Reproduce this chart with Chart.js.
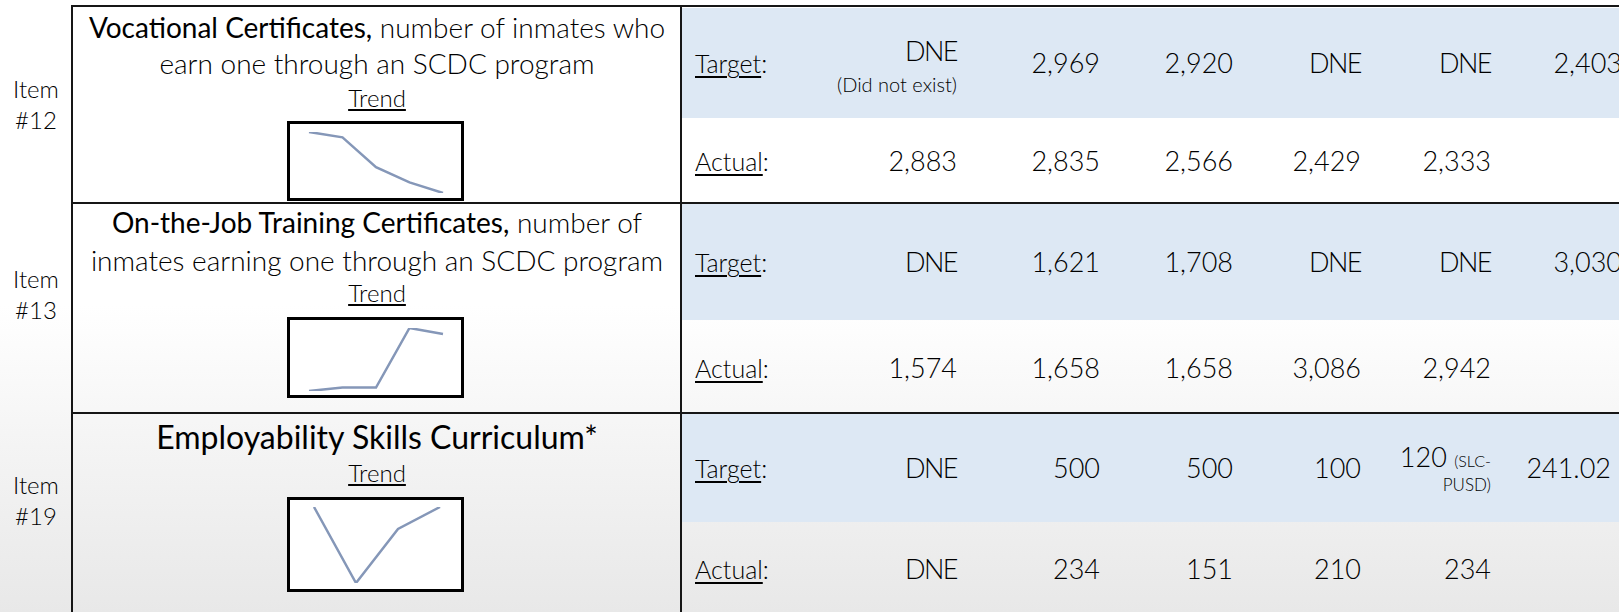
<!DOCTYPE html>
<html>
<head>
<meta charset="utf-8">
<script src="https://cdn.jsdelivr.net/npm/chart.js"></script>
<style>
    html, body { margin: 0; padding: 0; }
    body { width: 1619px; height: 612px; overflow: hidden; font-family: Lato, "Open Sans", sans-serif; color: #000; }
    #slide { position: relative; width: 1619px; height: 612px; overflow: hidden;
        background: linear-gradient(to bottom, #ffffff 0%, #ffffff 50%, #f3f3f3 75%, #e8e8e8 100%); }
    .abs { position: absolute; white-space: nowrap; }
    .band { position: absolute; background: #dde8f4; }
    .rule { position: absolute; background: #161616; }
    .num { font-size: 27px; font-weight: 300; text-align: right; width: 300px; line-height: 30px; }
    .lbl { font-size: 25px; font-weight: 300; line-height: 30px; }
    .lbl u { text-underline-offset: 3px; text-decoration-thickness: 2px; }
    .title { font-size: 28px; font-weight: 300; text-align: center; width: 608px; line-height: 32px; }
    .title b { font-weight: 400; }
    .trend { font-size: 24px; font-weight: 300; text-align: center; width: 608px; line-height: 26px; }
    .trend u { text-underline-offset: 2px; text-decoration-thickness: 2px; }
    .item { font-size: 24px; font-weight: 300; text-align: center; width: 72px; line-height: 31px; }
    .note { font-size: 20px; font-weight: 300; text-align: right; width: 300px; line-height: 22px; }
    .spark { position: absolute; background: #fff; }
    .spark .frame { position: absolute; left: 0; top: 0; right: 0; bottom: 0; border: 3px solid #000; box-sizing: border-box; }
</style>
</head>
<body>
<div id="slide"></div>
<script>
// item numbers and titles
const itemNumbers = ['#12', '#13', '#19'];
const titleBold = ['Vocational Certificates,', 'On-the-Job Training Certificates,', 'Employability Skills Curriculum*'];
const titleRest = [' number of inmates who|earn one through an SCDC program', ' number of|inmates earning one through an SCDC program', ''];

// target / actual values per year column (null = DNE)
const targetVocational = [null, 2969, 2920, null, null, 2403];
const actualVocational = [2883, 2835, 2566, 2429, 2333];
const targetOnTheJob = [null, 1621, 1708, null, null, 3030];
const actualOnTheJob = [1574, 1658, 1658, 3086, 2942];
const targetEmployability = [null, 500, 500, 100, 120, 241.02];
const actualEmployability = [null, 234, 151, 210, 234];

const slide = document.getElementById('slide');

function add(cls, style, html) {
    const d = document.createElement('div');
    d.className = cls;
    Object.assign(d.style, style);
    if (html !== undefined) d.innerHTML = html;
    slide.appendChild(d);
    return d;
}

function fmt(v) {
    if (v === null) return 'DNE';
    if (!Number.isInteger(v)) return v.toFixed(2);
    return v.toLocaleString('en-US');
}

// layout of the three item blocks
const blocks = [
    { target: targetVocational, actual: actualVocational, band: [8, 118], rowEnd: 202, tY: 63, aY: 161, titleY: [27, 63], trendY: 98, itemY: 104, box: [121, 80], pad: { left: 22, right: 21, top: 11, bottom: 8 } },
    { target: targetOnTheJob, actual: actualOnTheJob, band: [204, 320], rowEnd: 412, tY: 262, aY: 368, titleY: [222, 260], trendY: 293, itemY: 294, box: [317, 81], pad: { left: 22, right: 21, top: 11, bottom: 7 } },
    { target: targetEmployability, actual: actualEmployability, band: [414, 522], rowEnd: 612, tY: 468, aY: 569, titleY: [437], trendY: 473, itemY: 500, box: [497, 95], pad: { left: 27, right: 24, top: 10, bottom: 9 } }
];
const columnRight = [957, 1100, 1233, 1361, 1491, 1622];

blocks.forEach(function(b, i) {
    add('band', { left: '682px', top: b.band[0] + 'px', width: '937px', height: (b.band[1] - b.band[0]) + 'px' });

    // left item label
    add('abs item', { left: '0px', top: (b.itemY - 31) + 'px' }, 'Item<br>' + itemNumbers[i]);

    // title
    const lines = titleRest[i] ? titleRest[i].split('|') : [''];
    if (i === 2) {
        add('abs title', { left: '73px', top: (b.titleY[0] - 18) + 'px', fontSize: '32px', lineHeight: '36px', fontWeight: '400' }, titleBold[i]);
    } else {
        add('abs title', { left: '73px', top: (b.titleY[0] - 16) + 'px' }, '<b>' + titleBold[i] + '</b>' + lines[0]);
        add('abs title', { left: '73px', top: (b.titleY[1] - 16) + 'px' }, lines[1]);
    }
    add('abs trend', { left: '73px', top: (b.trendY - 13) + 'px' }, '<u>Trend</u>');

    // target / actual labels
    add('abs lbl', { left: '695px', top: (b.tY - 15) + 'px' }, '<u>Target</u>:');
    add('abs lbl', { left: '695px', top: (b.aY - 15) + 'px' }, '<u>Actual</u>:');

    b.target.forEach(function(v, c) {
        let r = columnRight[c];
        if (i === 2 && c === 5) r = 1611;
        if (i === 0 && c === 0) {
            add('abs num', { left: (r - 300) + 'px', top: (b.tY - 27) + 'px', letterSpacing: '-1.5px' }, 'DNE');
            add('abs note', { left: (r - 300) + 'px', top: (b.tY + 10) + 'px' }, '(Did not exist)');
        } else if (i === 2 && c === 4) {
            add('abs num', { left: (r - 300) + 'px', top: (b.tY - 26) + 'px' }, fmt(v) + ' <span style="font-size:16px">(SLC-</span>');
            add('abs note', { left: (r - 300) + 'px', top: (b.tY + 6) + 'px', fontSize: '17px' }, 'PUSD)');
        } else {
            add('abs num', { left: (r - 300) + 'px', top: (b.tY - 15) + 'px', letterSpacing: v === null ? '-1.5px' : '0px' }, fmt(v));
        }
    });
    b.actual.forEach(function(v, c) {
        add('abs num', { left: (columnRight[c] - 300) + 'px', top: (b.aY - 15) + 'px', letterSpacing: v === null ? '-1.5px' : '0px' }, fmt(v));
    });

    // sparkline of the actual values
    const w = 177, h = b.box[1];
    const wrap = add('spark', { left: '287px', top: b.box[0] + 'px', width: w + 'px', height: h + 'px' });
    const cv = document.createElement('canvas');
    cv.width = w; cv.height = h;
    wrap.appendChild(cv);
    const fr = document.createElement('div');
    fr.className = 'frame';
    wrap.appendChild(fr);

    const values = b.actual.filter(function(v) { return v !== null; });
    new Chart(cv.getContext('2d'), {
        type: 'line',
        data: {
            labels: values.map(function(v, k) { return k; }),
            datasets: [{
                data: values,
                borderColor: '#8597b8',
                borderWidth: 2.5,
                pointRadius: 0,
                tension: 0,
                fill: false
            }]
        },
        options: {
            responsive: false,
            animation: false,
            layout: { padding: b.pad },
            plugins: { legend: { display: false }, tooltip: { enabled: false } },
            scales: {
                x: { display: false, offset: false },
                y: { display: false, min: Math.min.apply(null, values), max: Math.max.apply(null, values) }
            }
        }
    });

    // row rule under this block
    if (i < 2) add('rule', { left: '71px', top: b.rowEnd + 'px', width: '1548px', height: '2px' });
});

// outer table rules
add('rule', { left: '71px', top: '5px', width: '1548px', height: '2px' });
add('rule', { left: '71px', top: '5px', width: '2px', height: '607px' });
add('rule', { left: '680px', top: '5px', width: '2px', height: '607px' });
</script>
</body>
</html>
